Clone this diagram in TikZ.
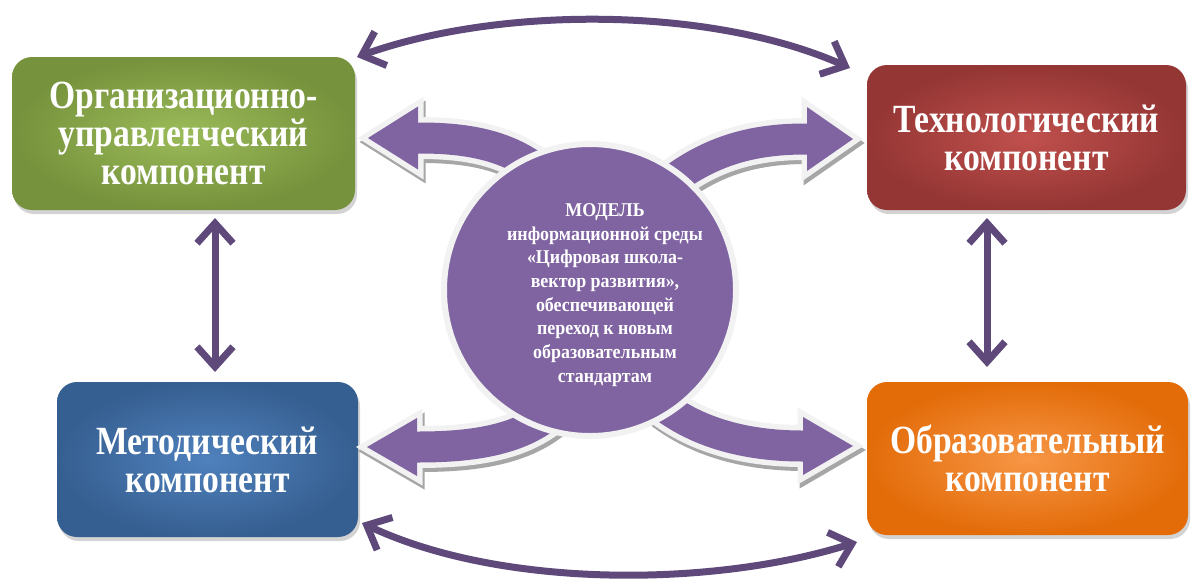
\documentclass[tikz,border=0pt]{standalone}
\usepackage{fontspec}
\setmainfont{Liberation Serif}
\newfontfamily\boxfont{Liberation Serif}[FakeStretch=0.84]
\newfontfamily\circfont{Liberation Serif}[FakeStretch=0.92]
\usetikzlibrary{arrows.meta,shadows,calc}
\definecolor{purp}{HTML}{8064A2}
\definecolor{conn}{HTML}{5F497A}
\definecolor{outl}{HTML}{F2F2F2}
\definecolor{shad}{HTML}{A6A6A6}
\definecolor{gOut}{HTML}{76923C}
\definecolor{gIn}{HTML}{9BBB59}
\definecolor{rOut}{HTML}{943634}
\definecolor{rIn}{HTML}{C0504D}
\definecolor{bOut}{HTML}{365F91}
\definecolor{bIn}{HTML}{4F81BD}
\definecolor{oOut}{HTML}{E36C09}
\definecolor{oIn}{HTML}{F79646}
\newcommand\blockarr[2]{%
  \begin{scope}[shift={(2,4)}]
    \draw[shad,line width=42pt] #1;
    \filldraw[shad,line width=11pt,line join=miter] #2;
  \end{scope}
  \draw[outl,line width=42pt] #1;
  \filldraw[outl,line width=11pt,line join=miter] #2;
  \draw[purp,line width=31pt] #1;
  \fill[purp] #2;
}
\begin{document}
\begin{tikzpicture}[x=1pt,y=-1pt,
  comp/.style={rounded corners=20pt, inner sep=0pt, text=white, align=center,
    font=\boxfont\bfseries\fontsize{40}{38}\selectfont,
    drop shadow={shadow xshift=2pt,shadow yshift=-4pt,opacity=.35}},
  link/.style={conn, line width=7pt,
    {Straight Barb[length=20pt 0,width=36pt 0]}-{Straight Barb[length=20pt 0,width=36pt 0]}},
]
\useasboundingbox (0,0) rectangle (1193,579);

% boxes
\node[comp, minimum width=343pt, minimum height=153pt, inner color=gIn, outer color=gOut]
  (org) at (183.5,133.5) {Организационно-\\управленческий\\компонент};
\node[comp, minimum width=319pt, minimum height=145pt, inner color=rIn, outer color=rOut]
  (tech) at (1026.5,137.5) {Технологический\\компонент};
\node[comp, minimum width=301pt, minimum height=155pt, inner color=bIn, outer color=bOut]
  (met) at (207.5,459.5) {Методический\\компонент};
\node[comp, minimum width=321pt, minimum height=153pt, inner color=oIn, outer color=oOut]
  (obr) at (1027.5,458.5) {Образовательный\\компонент};

% block arrows from the model to the components
\blockarr{(412,138) -- (420,138) .. controls (475,138) and (515,148) .. (548,178)}
         {(368,138) -- (418,106.5) -- (418,169.5) -- cycle}
\blockarr{(813,139) -- (805,139) .. controls (750,139) and (705,152) .. (660,190)}
         {(853,139) -- (807,107) -- (807,171) -- cycle}
\blockarr{(411,447) -- (418,447) .. controls (480,447) and (528,438) .. (560,405)}
         {(367,447) -- (417,418) -- (417,476) -- cycle}
\blockarr{(809,446) -- (802,446) .. controls (745,446) and (690,432) .. (650,395)}
         {(853,446) -- (803,417) -- (803,475) -- cycle}

% central model
\node[circle, fill=purp, draw=outl, line width=6pt, minimum size=292pt] (model) at (590,290) {};
\node[text=white, align=center, font=\circfont\bfseries\fontsize{19.5}{23.7}\selectfont]
  (modeltext) at (605,295) {МОДЕЛЬ\\информационной среды\\«Цифровая школа-\\вектор развития»,\\обеспечивающей\\переход к новым\\образовательным\\стандартам};

% two-way links between components
\coordinate (t1) at (357,57);
\coordinate (t2) at (850,68);
\coordinate (b1) at (362,523);
\coordinate (b2) at (857,542);
\coordinate (l1) at (215,218);
\coordinate (l2) at (215,372);
\coordinate (r1) at (987,218);
\coordinate (r2) at (987,367);
\draw[link] (t1) .. controls (500,6) and (710,6) .. (t2);
\draw[link] (b1) .. controls (500,588) and (710,588) .. (b2);
\draw[link] (l1) -- (l2);
\draw[link] (r1) -- (r2);
\end{tikzpicture}
\end{document}
